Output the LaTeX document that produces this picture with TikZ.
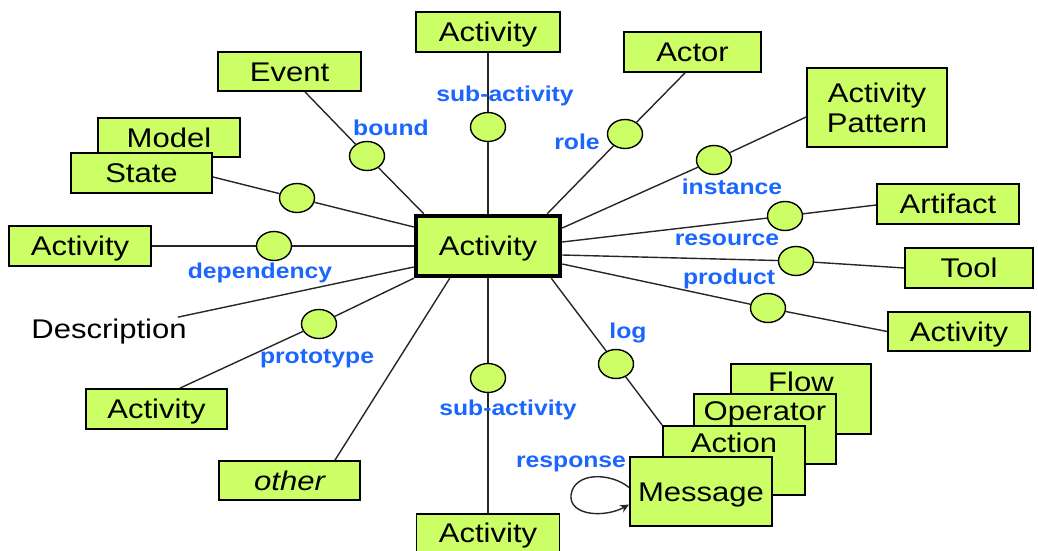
\documentclass[tikz,border=0pt]{standalone}
\usepackage{fontspec}
\setmainfont{Liberation Sans}[FakeStretch=1.15]
\usetikzlibrary{calc,arrows.meta,shapes.geometric}
\definecolor{boxgreen}{RGB}{204,255,102}
\definecolor{lblue}{RGB}{26,102,255}
\begin{document}
\begin{tikzpicture}[x=1pt,y=-1pt,
  box/.style={draw, fill=boxgreen, line width=1.8pt, inner sep=0pt,
    font=\fontsize{27}{30}\selectfont, text height=19.3pt, text depth=0pt,
    minimum width=142pt, minimum height=40pt},
  relc/.style={draw, fill=boxgreen, ellipse, line width=1.4pt, inner sep=0pt,
    minimum width=35pt, minimum height=29pt},
  lbl/.style={text=lblue, inner sep=0pt, font=\fontsize{21.5}{24}\selectfont\bfseries},
  conn/.style={line width=1.4pt, draw=black!85},
  inlbl/.style={anchor=center, inner sep=0pt, text height=19.3pt, text depth=0pt,
    font=\fontsize{27}{30}\selectfont}]
\useasboundingbox (0,0) rectangle (1038,551);

% central node
\node[box, minimum width=144pt, minimum height=60pt, line width=4.5pt] (center) at (488,246) {Activity};

% outer boxes
\node[box, minimum width=144pt] (topact) at (488,32) {Activity};
\node[box, minimum width=137pt] (actor) at (692.5,52) {Actor};
\node[draw, fill=boxgreen, line width=1.8pt, inner sep=0pt, minimum width=140pt,
  minimum height=79pt, align=center,
  font=\fontsize{27}{30}\selectfont] (pattern) at (877,107.5) {Activity\\Pattern};
\node[box] (artifact) at (948,204) {Artifact};
\node[box, minimum width=128pt] (tool) at (969,268) {Tool};
\node[box, minimum height=39pt] (actR) at (959,331.5) {Activity};
\node[box, minimum width=143pt, minimum height=39pt] (event) at (289.5,71.5) {Event};
\node[box, minimum height=39pt] (model) at (169,137.5) {Model};
\node[box, minimum width=141pt] (state) at (141.5,173) {State};
\node[box] (actL) at (80,246) {Activity};
\node[box, minimum width=141pt] (actBL) at (156.5,409) {Activity};
\node[box, minimum width=141pt, minimum height=39pt] (other) at (289.5,480.5) {\itshape other};
\node[box, minimum width=143pt, minimum height=38pt] (actB) at (488,533) {Activity};
\node[inner sep=0pt, text height=19.3pt, text depth=0pt,
  font=\fontsize{27}{30}\selectfont] (desc) at (109,329) {Description};

% stacked boxes
\node[box, minimum width=140pt, minimum height=70pt,
  label={[inlbl, yshift=-19pt]north:Flow}] (flow) at (801,399) {};
\node[box, minimum height=70pt,
  label={[inlbl, yshift=-17.5pt]north:Operator}] (operator) at (765,429) {};
\node[box, minimum height=69pt,
  label={[inlbl, yshift=-18pt]north:Action}] (action) at (734,460.5) {};
\node[box, minimum height=69pt] (message) at (701,491.5) {Message};

% relation circles
\node[relc] (sa1) at (488,127) {};
\node[relc] (bound) at (367,156) {};
\node[relc] (stc) at (297,198) {};
\node[relc] (dep) at (274,246) {};
\node[relc] (proto) at (319,324) {};
\node[relc] (sa2) at (488,378) {};
\node[relc] (logc) at (616,364) {};
\node[relc] (prod) at (768,308) {};
\node[relc] (toolc) at (796,261) {};
\node[relc] (res) at (785,216) {};
\node[relc] (inst) at (714,160) {};
\node[relc] (rolec) at (625,134) {};

% connectors
\draw[conn] (topact) -- (sa1) -- (center);
\draw[conn] ($(event.south)+(15.5,0)$) -- (bound) -- ($(center.north west)+(10,0)$);
\draw[conn] ($(state.east)+(0,4)$) -- (stc) -- ($(center.west)+(0,-19)$);
\draw[conn] (actL) -- (dep) -- (center);
\draw[conn] ($(desc.north east)+(-9,-2)$) -- ($(center.west)+(0,21)$);
\draw[conn] ($(actBL.north)+(23.5,0)$) -- (proto) -- (center.south west);
\draw[conn] ($(other.north)+(45.5,0)$) -- ($(center.south west)+(36,0)$);
\draw[conn] (center) -- (sa2) -- (actB);
\draw[conn] ($(center.south east)+(-11,0)$) -- (logc) -- (action.north west);
\draw[conn] ($(center.east)+(0,18)$) -- (prod) -- (actR.west);
\draw[conn] ($(center.east)+(0,9)$) -- (toolc) -- (tool.west);
\draw[conn] ($(center.east)+(0,-4)$) -- (res) -- ($(artifact.west)+(0,1)$);
\draw[conn] ($(center.east)+(0,-18)$) -- (inst) -- ($(pattern.west)+(0,9.5)$);
\draw[conn] ($(center.north east)+(-15,0)$) -- (rolec) -- ($(actor.south)+(-7.5,0)$);
\draw[conn, -{Stealth[length=9pt,width=8pt]}] ($(message.west)+(0,-4)$)
  .. controls (610,472) and (574,472) .. (571,495)
  .. controls (569,516) and (605,518) .. ($(message.west)+(0,13)$);

% relation labels
\node[lbl] (lsa1) at (505,96) {sub-activity};
\node[lbl] (lbound) at (391,128) {bound};
\node[lbl] (lrole) at (577,142) {role};
\node[lbl] (linst) at (732,187) {instance};
\node[lbl] (lres) at (727,240) {resource};
\node[lbl] (lprod) at (729,279) {product};
\node[lbl] (ldep) at (260,273) {dependency};
\node[lbl] (lproto) at (317,359) {prototype};
\node[lbl] (lsa2) at (508,410) {sub-activity};
\node[lbl] (llog) at (628,333) {log};
\node[lbl] (lresp) at (571,464) {response};
\end{tikzpicture}
\end{document}
